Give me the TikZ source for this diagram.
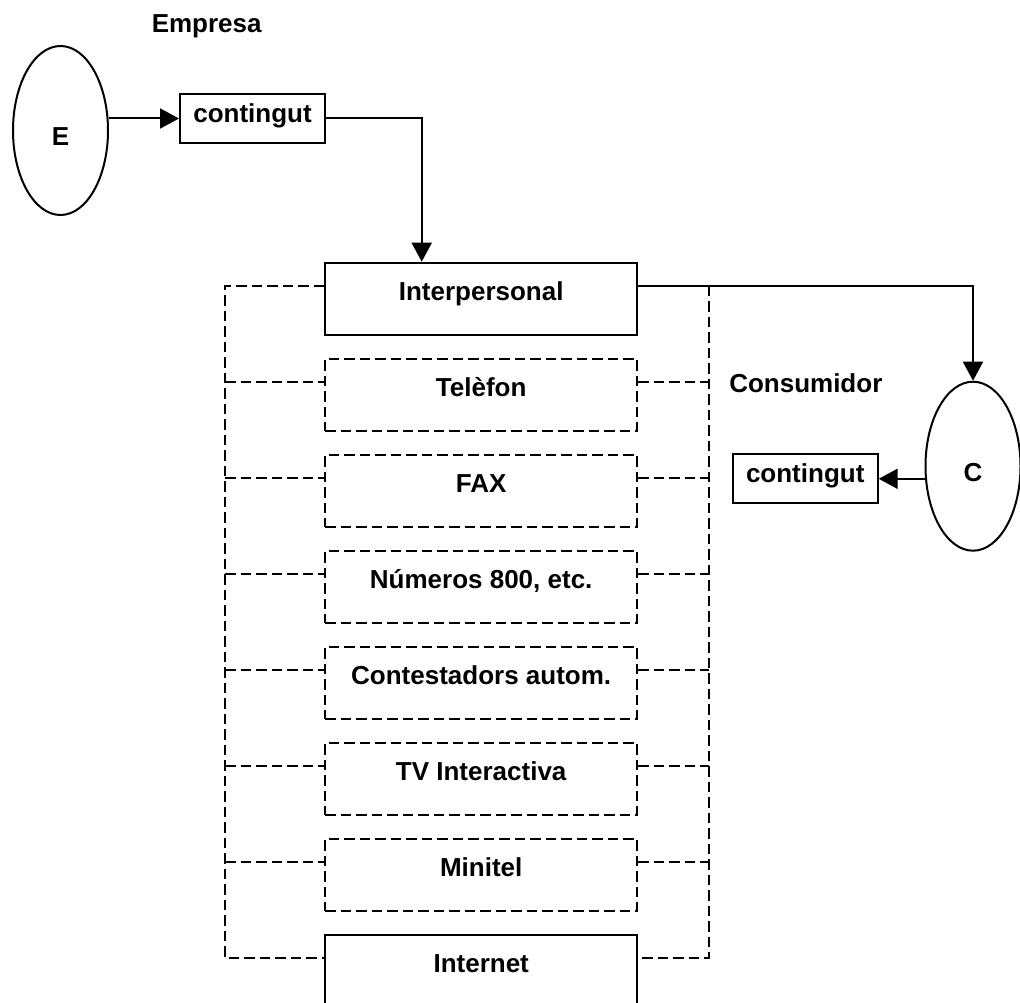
\documentclass[tikz,border=0pt]{standalone}
\usepackage{fontspec}
\setmainfont{Liberation Sans}
\usetikzlibrary{shapes.geometric,arrows.meta}
\begin{document}
\begin{tikzpicture}[x=1pt,y=-1pt,
  every node/.style={font=\fontsize{26}{30}\selectfont\bfseries, inner sep=0pt},
  solidln/.style={draw=black, line width=2pt},
  dashln/.style={draw=black, line width=1.8pt, dash pattern=on 10.5pt off 5pt},
  arr/.style={solidln, -{Triangle[length=19pt,width=20pt]}},
  party/.style={ellipse, solidln, minimum width=95pt, minimum height=169pt,
                text height=30pt, text depth=0pt},
  itembox/.style={rectangle, minimum width=312pt, minimum height=72pt,
                  text height=20pt, text depth=17pt},
  mainbox/.style={itembox, solidln},
  channelbox/.style={itembox, dashln},
  contentbox/.style={rectangle, solidln, minimum width=145pt, minimum height=49pt,
                     text height=19pt, text depth=11pt},
]
\useasboundingbox (0,0) rectangle (1020,1003);
\clip (0,0) rectangle (1020,1003);

% company side
\node[anchor=base] (empresa) at (206.7,32.7) {Empresa};
\node[party] (E) at (60.5,130.5) {E};
\node[contentbox] (cont1) at (252.5,118.5) {contingut};

% channels
\node[mainbox]    (inter) at (481.2,298.7) {Interpersonal};
\node[channelbox] (tel)   at (481.2,394.7) {Telèfon};
\node[channelbox] (fax)   at (481.2,490.7) {FAX};
\node[channelbox] (num)   at (481.2,586.7) {Números 800, etc.};
\node[channelbox] (cont)  at (481.2,682.7) {Contestadors autom.};
\node[channelbox] (tv)    at (481.2,778.7) {TV Interactiva};
\node[channelbox] (mini)  at (481.2,874.7) {Minitel};
\node[mainbox]    (inet)  at (481.2,970.7) {Internet};

% consumer side
\node[anchor=base] (consum) at (805.8,392.7) {Consumidor};
\node[party] (C) at (973,466.2) {C};
\node[contentbox] (cont2) at (805.2,478.8) {contingut};

% attachment points of the channel boxes
\foreach \b in {inter,tel,fax,num,cont,tv,mini,inet}{
  \coordinate (\b-l) at ([yshift=-24pt]\b.north west);
  \coordinate (\b-r) at ([yshift=-24pt]\b.north east);
}
\coordinate (railL) at (225,0);
\coordinate (railR) at (709.3,0);

% dashed rails
\draw[dashln] (inter-l) -- (inter-l -| railL) -- (inet-l -| railL) -- (inet-l);
\draw[dashln] (inter-r -| railR) -- (inet-r -| railR) -- (inet-r);
\foreach \b in {tel,fax,num,cont,tv,mini}{
  \draw[dashln] (\b-l -| railL) -- (\b-l);
  \draw[dashln] (\b-r) -- (\b-r -| railR);
}

% flow of content
\draw[arr] (E.east |- cont1.west) -- (cont1.west);
\draw[arr] (cont1.east) -| ([xshift=-59.5pt]inter.north);
\draw[arr] (inter-r) -| (C.north);
\draw[arr] (C.west |- cont2.east) -- (cont2.east);
\end{tikzpicture}
\end{document}
